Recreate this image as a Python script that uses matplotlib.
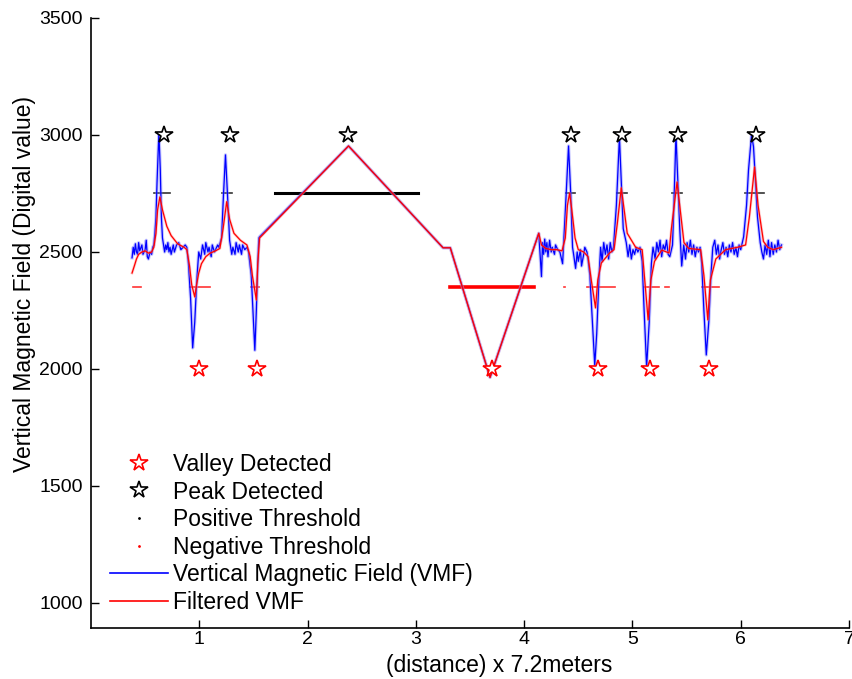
import matplotlib
matplotlib.use("Agg")
import matplotlib.pyplot as plt
from matplotlib.lines import Line2D

plt.rcParams['font.family'] = ['Liberation Sans', 'DejaVu Sans']

# Raw vertical magnetic field samples (distance in units of 7.2 m)
vmf_x = [0.379, 0.39, 0.40, 0.41, 0.42, 0.43, 0.44, 0.45, 0.47, 0.48, 0.50, 0.51, 0.52, 0.53,
         0.545, 0.56, 0.57, 0.58, 0.59, 0.60, 0.61, 0.627, 0.64, 0.65, 0.66, 0.67, 0.68, 0.69,
         0.70, 0.71, 0.72, 0.73, 0.74, 0.75, 0.76, 0.77, 0.78, 0.79, 0.81, 0.83, 0.85, 0.87,
         0.885, 0.90, 0.92, 0.939, 0.958, 0.977, 0.995, 1.013, 1.03, 1.05, 1.06, 1.08, 1.09,
         1.11, 1.12, 1.14, 1.15, 1.17, 1.18, 1.206, 1.224, 1.242, 1.26, 1.28, 1.30, 1.31, 1.33,
         1.34, 1.36, 1.37, 1.39, 1.40, 1.42, 1.44, 1.455, 1.48, 1.50, 1.513, 1.527, 1.54, 1.55,
         1.557, 2.378, 3.251, 3.318, 3.685, 4.135, 4.16, 4.17, 4.18, 4.19, 4.20, 4.21, 4.22,
         4.235, 4.25, 4.26, 4.28, 4.29, 4.31, 4.33, 4.355, 4.383, 4.41, 4.43, 4.447, 4.46,
         4.475, 4.49, 4.50, 4.52, 4.53, 4.55, 4.56, 4.58, 4.59, 4.607, 4.625, 4.652, 4.67,
         4.69, 4.706, 4.72, 4.735, 4.75, 4.765, 4.78, 4.795, 4.81, 4.825, 4.852, 4.88, 4.897,
         4.915, 4.943, 4.96, 4.975, 4.99, 5.005, 5.02, 5.035, 5.05, 5.07, 5.09, 5.108, 5.131,
         5.155, 5.175, 5.19, 5.21, 5.225, 5.24, 5.255, 5.27, 5.285, 5.30, 5.315, 5.33, 5.345,
         5.36, 5.37, 5.383, 5.402, 5.42, 5.437, 5.455, 5.474, 5.49, 5.505, 5.52, 5.535, 5.55,
         5.565, 5.58, 5.595, 5.61, 5.625, 5.64, 5.66, 5.682, 5.705, 5.725, 5.742, 5.76, 5.775,
         5.79, 5.805, 5.82, 5.835, 5.85, 5.865, 5.88, 5.895, 5.91, 5.925, 5.94, 5.955, 5.97,
         5.985, 6.00, 6.015, 6.027, 6.054, 6.072, 6.10, 6.118, 6.137, 6.155, 6.18, 6.195, 6.21,
         6.225, 6.24, 6.255, 6.27, 6.285, 6.30, 6.315, 6.33, 6.345, 6.36, 6.376]
vmf_y = [2475, 2520, 2490, 2535, 2500, 2490, 2540, 2505, 2530, 2490, 2510, 2550, 2480, 2470,
         2500, 2490, 2520, 2530, 2580, 2650, 2800, 3010, 2850, 2650, 2560, 2530, 2500, 2530,
         2510, 2540, 2500, 2520, 2490, 2510, 2530, 2500, 2515, 2530, 2540, 2510, 2520, 2530,
         2520, 2450, 2300, 2090, 2200, 2380, 2500, 2470, 2530, 2490, 2540, 2500, 2520,
         2480, 2530, 2500, 2510, 2530, 2520, 2560, 2750, 2915, 2750, 2550, 2490, 2520, 2490,
         2540, 2500, 2530, 2490, 2530, 2510, 2520, 2500, 2400, 2200, 2080, 2250, 2450, 2560,
         2565, 2953, 2518, 2518, 1964, 2580, 2395, 2540, 2490, 2555, 2500, 2540, 2480,
         2550, 2500, 2520, 2490, 2530, 2510, 2500, 2450, 2700, 2953, 2750, 2520, 2480,
         2430, 2500, 2460, 2510, 2440, 2490, 2520, 2500, 2470, 2400, 2250, 2017, 2150,
         2380, 2520, 2460, 2540, 2490, 2530, 2470, 2540, 2500, 2520, 2700, 2990, 2800,
         2600, 2540, 2480, 2530, 2470, 2510, 2490, 2520, 2500, 2520, 2460, 2250, 2009,
         2200, 2450, 2520, 2470, 2540, 2500, 2550, 2480, 2530, 2510, 2550, 2490, 2480,
         2510, 2530, 2700, 3000, 2800, 2600, 2440, 2530, 2470, 2540, 2500, 2550, 2490,
         2530, 2480, 2520, 2500, 2520, 2450, 2250, 2060, 2200, 2400, 2520, 2550, 2490,
         2530, 2470, 2510, 2540, 2490, 2520, 2480, 2530, 2500, 2540, 2490, 2520, 2480,
         2530, 2510, 2540, 2565, 2700, 2850, 3000, 2950, 2800, 2650, 2540, 2500, 2470,
         2530, 2490, 2550, 2480, 2540, 2490, 2530, 2500, 2550, 2510, 2530]

# Low-pass filtered VMF
filt_x = [0.379, 0.40, 0.42, 0.44, 0.47, 0.50, 0.53, 0.56, 0.58, 0.60, 0.615, 0.636, 0.66,
          0.70, 0.74, 0.80, 0.86, 0.885, 0.91, 0.93, 0.958, 0.975, 0.995, 1.02, 1.06, 1.10,
          1.15, 1.19, 1.22, 1.253, 1.28, 1.32, 1.38, 1.44, 1.47, 1.49, 1.527, 1.54, 1.557,
          2.378, 3.251, 3.318, 3.685, 4.135, 4.16, 4.20, 4.25, 4.30, 4.35, 4.38, 4.40, 4.42,
          4.44, 4.47, 4.50, 4.55, 4.59, 4.62, 4.659, 4.68, 4.713, 4.79, 4.83, 4.86, 4.897,
          4.952, 5.03, 5.09, 5.11, 5.145, 5.17, 5.204, 5.27, 5.338, 5.36, 5.412, 5.476, 5.52,
          5.63, 5.66, 5.696, 5.72, 5.77, 5.86, 5.97, 6.045, 6.08, 6.128, 6.16, 6.21, 6.25,
          6.30, 6.376]
filt_y = [2410, 2440, 2470, 2490, 2500, 2505, 2495, 2500, 2520, 2580, 2680, 2735, 2680,
          2610, 2570, 2535, 2520, 2510, 2440, 2360, 2308, 2360, 2410, 2450, 2480, 2495,
          2505, 2515, 2600, 2715, 2640, 2580, 2550, 2530, 2480, 2400, 2295, 2450, 2560,
          2953, 2518, 2518, 1964, 2580, 2530, 2515, 2510, 2510, 2505, 2560, 2700, 2752,
          2680, 2560, 2510, 2500, 2480, 2380, 2261, 2380, 2453, 2496, 2510, 2620, 2774,
          2580, 2520, 2510, 2400, 2210, 2380, 2460, 2508, 2496, 2600, 2799, 2540, 2515,
          2510, 2400, 2210, 2380, 2470, 2510, 2520, 2530, 2650, 2863, 2700, 2545, 2520,
          2510, 2520]

# Detected extrema
peak_x = [0.673, 1.288, 2.372, 4.429, 4.907, 5.42, 6.137]
peak_y = [3000, 3000, 3000, 3000, 3000, 3000, 3000]
valley_x = [0.994, 1.536, 3.704, 4.678, 5.164, 5.706]
valley_y = [2000, 2000, 2000, 2000, 2000, 2000]

# Threshold levels and the spans where the signal crosses them
pos_threshold = 2750
neg_threshold = 2350
pos_start = [0.583, 1.206, 1.703, 4.383, 4.861, 5.366, 6.037]
pos_end = [0.728, 1.298, 3.024, 4.466, 4.952, 5.458, 6.212]
neg_start = [0.386, 0.912, 1.481, 3.311, 4.370, 4.585, 5.110, 5.300, 5.640]
neg_end = [0.462, 1.096, 1.555, 4.090, 4.378, 4.842, 5.250, 5.338, 5.796]

fig = plt.figure(figsize=(8.53, 6.79), dpi=100)
ax = fig.add_axes([91 / 853, 51 / 679, 758 / 853, 610 / 679])

for s, e in zip(pos_start, pos_end):
    ax.plot([s, e], [pos_threshold, pos_threshold], color='black',
            lw=2.2 if e - s > 0.5 else 1.2, alpha=1.0 if e - s > 0.5 else 0.8)
for s, e in zip(neg_start, neg_end):
    ax.plot([s, e], [neg_threshold, neg_threshold], color='red',
            lw=2.6 if e - s > 0.5 else 1.2, alpha=1.0 if e - s > 0.5 else 0.8)

ax.plot(vmf_x, vmf_y, color='#8080ff', lw=2.4, alpha=0.45, solid_joinstyle='round')
ax.plot(vmf_x, vmf_y, color='blue', lw=0.9)
ax.plot(filt_x, filt_y, color='#ff8080', lw=2.0, alpha=0.4)
ax.plot(filt_x, filt_y, color='red', lw=0.9)

ax.plot(valley_x, valley_y, linestyle='none', marker='*', ms=13, mfc='white',
        mec='red', mew=1.2)
ax.plot(peak_x, peak_y, linestyle='none', marker='*', ms=13, mfc='white',
        mec='black', mew=1.2)

ax.set_xlim(0, 7)
ax.set_ylim(893, 3500)
ax.set_xticks([1, 2, 3, 4, 5, 6, 7])
ax.set_yticks([1000, 1500, 2000, 2500, 3000, 3500])
ax.tick_params(direction='in', length=6, width=1, labelsize=14, colors='black')
ax.tick_params(axis='x', pad=2)
ax.tick_params(axis='y', pad=6)
ax.spines['top'].set_visible(False)
ax.spines['right'].set_visible(False)
ax.spines['left'].set_linewidth(1.2)
ax.spines['bottom'].set_linewidth(1.2)

ax.set_xlabel('(distance) x 7.2meters', fontsize=16.5)
ax.xaxis.set_label_coords(0.538, -0.043)
ax.set_ylabel('Vertical Magnetic Field (Digital value)', fontsize=16.5)
ax.yaxis.set_label_coords(-0.073, 0.564)

handles = [
    Line2D([], [], linestyle='none', marker='*', ms=13, mfc='white', mec='red', mew=1.2),
    Line2D([], [], linestyle='none', marker='*', ms=13, mfc='white', mec='black', mew=1.2),
    Line2D([], [], linestyle='none', marker='.', ms=2, color='black'),
    Line2D([], [], linestyle='none', marker='.', ms=2, color='red'),
    Line2D([], [], color='blue', lw=1.2),
    Line2D([], [], color='red', lw=1.2),
]
labels = ['Valley Detected', 'Peak Detected', 'Positive Threshold',
          'Negative Threshold', 'Vertical Magnetic Field (VMF)', 'Filtered VMF']
ax.legend(handles, labels, loc='upper left', bbox_to_anchor=(0.025, 0.287),
          frameon=False, fontsize=16.5, handlelength=2.55, handletextpad=0.22,
          labelspacing=0.2, borderpad=0, borderaxespad=0)

fig.savefig('out.png', dpi=100)
